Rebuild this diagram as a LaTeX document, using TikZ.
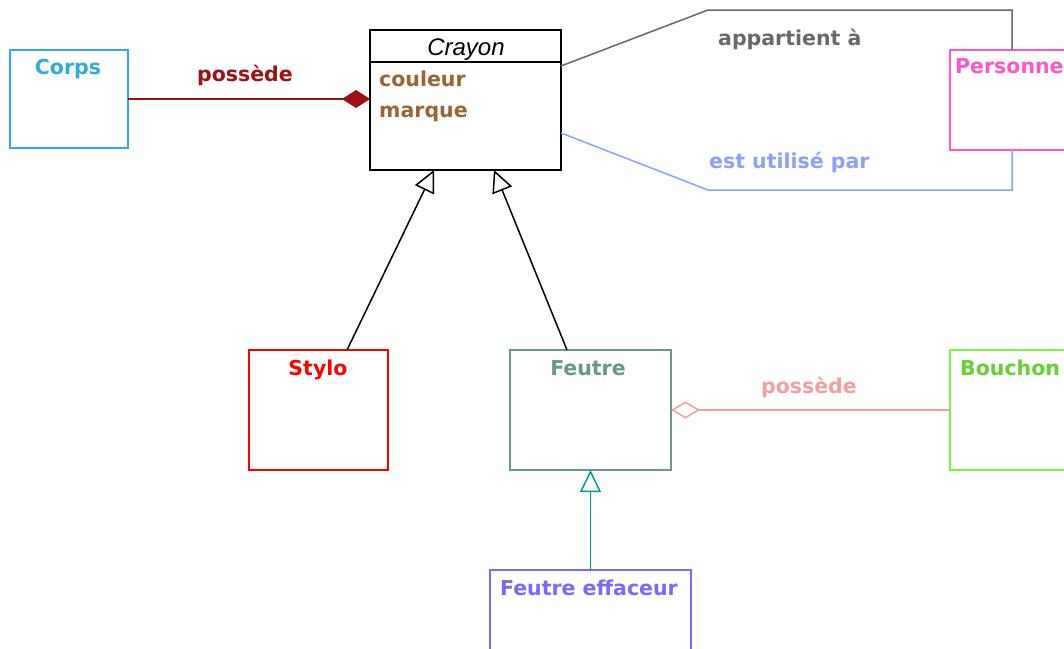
\documentclass[tikz,border=0pt]{standalone}
\usepackage{fontspec}
\setmainfont{DejaVu Sans}
\newfontfamily\lsans{Liberation Sans}
\usetikzlibrary{arrows.meta}
\definecolor{corpsC}{RGB}{51,170,221}
\definecolor{darkredC}{RGB}{160,16,16}
\definecolor{brownC}{RGB}{153,102,51}
\definecolor{grayC}{RGB}{105,105,105}
\definecolor{blueC}{RGB}{140,160,255}
\definecolor{pinkC}{RGB}{255,85,204}
\definecolor{feutreC}{RGB}{102,153,136}
\definecolor{bouchonC}{RGB}{120,245,60}
\definecolor{roseC}{RGB}{240,160,160}
\definecolor{violetC}{RGB}{128,102,255}
\definecolor{tealC}{RGB}{0,153,153}
\begin{document}
\begin{tikzpicture}[x=1pt,y=-1pt,
  box/.style={draw, rectangle, inner sep=0pt, outer sep=0pt, anchor=north west, line width=1.8pt},
  lbl/.style={font=\bfseries\fontsize{20.5}{24}\selectfont, inner sep=0pt, anchor=base},
  conn/.style={line width=1.5pt},
  inherit/.style={conn, -{Triangle[open, length=22pt, width=21pt, fill=white]}}
]
\useasboundingbox (0,0) rectangle (1064,648);
\clip (0,0) rectangle (1064,648);
\fill[white] (0,0) rectangle (1064,648);

% boxes
\node[box, corpsC, minimum width=118pt, minimum height=98pt] (corps) at (10,50) {};
\node[box, black, minimum width=191pt, minimum height=140pt] (crayon) at (370,30) {};
\node[box, pinkC, minimum width=140pt, minimum height=100pt] (personne) at (950,50) {};
\node[box, red, minimum width=139pt, minimum height=120pt] (stylo) at (249,350) {};
\node[box, feutreC, minimum width=161pt, minimum height=120pt] (feutre) at (510,350) {};
\node[box, bouchonC, minimum width=140pt, minimum height=120pt] (bouchon) at (950,350) {};
\node[box, violetC, minimum width=201pt, minimum height=110pt] (effaceur) at (490,570) {};

\draw[line width=1.8pt] ([yshift=-32pt]crayon.north west) -- ([yshift=-32pt]crayon.north east);

% box texts
\node[lbl, corpsC] (tcorps) at (68,74) {Corps};
\node[inner sep=0pt, anchor=base, font=\lsans\itshape\fontsize{24}{28}\selectfont] (tcrayon) at (466,55) {Crayon};
\node[lbl, brownC, anchor=base west] (tcouleur) at (379,86) {couleur};
\node[lbl, brownC, anchor=base west] (tmarque) at (379,117) {marque};
\node[lbl, pinkC, anchor=base west] (tpersonne) at (955,73) {Personne};
\node[lbl, red] (tstylo) at (318,375) {Stylo};
\node[lbl, feutreC] (tfeutre) at (588,375) {Feutre};
\node[lbl, bouchonC!85!black, anchor=base west] (tbouchon) at (960,375) {Bouchon};
\node[lbl, violetC] (teffaceur) at (589,595) {Feutre effaceur};

% connectors
\draw[conn, darkredC, -{Diamond[length=28pt, width=18pt]}] (corps.east) -- (corps.east -| crayon.west);
\node[lbl, darkredC] (lposs1) at (245,81) {possède};

\draw[conn, grayC] ([yshift=-36pt]crayon.north east) -- (708,10) -| ([xshift=62pt]personne.north west);
\node[lbl, grayC, anchor=base west] (lapp) at (718,45) {appartient à};

\draw[conn, blueC] ([yshift=-103pt]crayon.north east) -- (708,190) -| ([xshift=62pt]personne.south west);
\node[lbl, blueC, anchor=base west] (lutil) at (709,168) {est utilisé par};

\draw[inherit] ([xshift=98pt]stylo.north west) -- ([xshift=64pt]crayon.south west);
\draw[inherit] ([xshift=57pt]feutre.north west) -- ([xshift=124pt]crayon.south west);

\draw[conn, roseC, -{Diamond[open, length=29pt, width=17pt, fill=white]}] (bouchon.west) -- (bouchon.west -| feutre.east);
\node[lbl, roseC] (lposs2) at (809,393) {possède};

\draw[conn, tealC, -{Triangle[open, length=22pt, width=21pt, fill=white]}] (effaceur.north) -- (feutre.south);
\end{tikzpicture}
\end{document}
